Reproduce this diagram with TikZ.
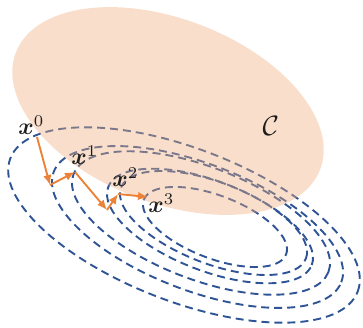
\documentclass[tikz,border=0pt]{standalone}
\usepackage{amsmath,bm}
\usetikzlibrary{arrows.meta}
\definecolor{dashblue}{RGB}{46,84,150}
\definecolor{arrorange}{RGB}{236,130,55}
\definecolor{peach}{RGB}{240,175,125}
\definecolor{labelgray}{RGB}{30,30,30}
\begin{document}
\begin{tikzpicture}[x=1pt,y=1pt,
  levelset/.style={draw=dashblue,line width=1.9pt,dash pattern=on 8pt off 5pt},
  setC/.style={fill=peach,fill opacity=0.4,draw=none},
  steparrow/.style={draw=arrorange,line width=1.9pt,-{Latex[length=10pt,width=8.5pt]}},
  ptlabel/.style={anchor=base west,inner sep=0pt,scale=2.35,text=labelgray},
  setlabel/.style={anchor=base west,inner sep=0pt,scale=2.8,text=labelgray}]
\useasboundingbox (0,0) rectangle (363,328);
% level sets
\draw[levelset,rotate around={-21:(184,103)}] (184,103) ellipse [x radius=186,y radius=76.5];
\draw[levelset,rotate around={-21:(197.5,101)}] (197.5,101) ellipse [x radius=154,y radius=63.4];
\draw[levelset,rotate around={-21:(201,105)}] (201,105) ellipse [x radius=136.5,y radius=56.2];
\draw[levelset,rotate around={-21:(210,102)}] (210,102) ellipse [x radius=109,y radius=44.9];
\draw[levelset,rotate around={-21:(213.5,105)}] (213.5,105) ellipse [x radius=99,y radius=40.7];
\draw[levelset,rotate around={-21:(215,101)}] (215,101) ellipse [x radius=76.2,y radius=31.4];
% constraint set
\path[setC,rotate around={-21:(168,217)}] (168,217) ellipse [x radius=163,y radius=92];
% iterates
\coordinate (p0) at (37,191);
\coordinate (q1) at (50,143);
\coordinate (p1) at (75,156);
\coordinate (q2) at (107,118);
\coordinate (p2) at (118,134);
\coordinate (p3) at (148,131);
\draw[steparrow] (p0) -- (q1);
\draw[steparrow] (q1) -- (p1);
\draw[steparrow] (p1) -- (q2);
\draw[steparrow] (q2) -- (p2);
\draw[steparrow] (p2) -- (p3);
% labels
\node[ptlabel] (x0) at (18,193) {$\bm{x}^0$};
\node[ptlabel] (x1) at (71,163) {$\bm{x}^1$};
\node[ptlabel] (x2) at (112,141) {$\bm{x}^2$};
\node[ptlabel] (x3) at (148,115) {$\bm{x}^3$};
\node[setlabel] (C) at (262,192) {$\mathcal{C}$};
\end{tikzpicture}
\end{document}
